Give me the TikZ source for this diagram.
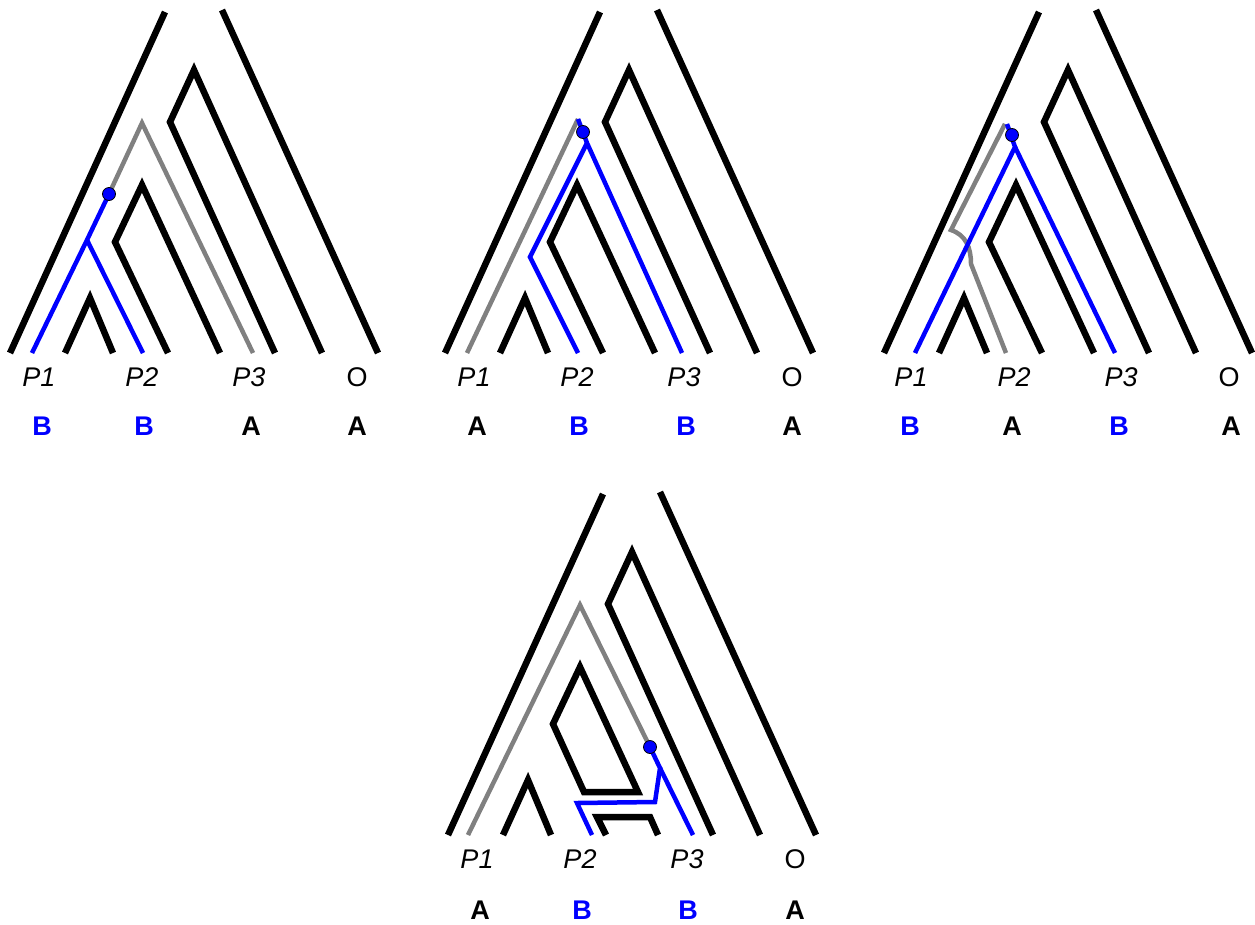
\documentclass[tikz,border=0pt]{standalone}
\usepackage{fontspec}
\setmainfont{Liberation Sans}

% shared species tree (without the P2 tube)
\newcommand{\speciestree}{%
  \draw[sp] (10,353) -- (165,12);
  \draw[sp] (222,10) -- (378,353);
  \draw[sp] (275,353) -- (170,122) -- (194,70) -- (322,353);
  \draw[sp] (65,353) -- (90,298) -- (113,353);
}

\begin{document}
\begin{tikzpicture}[
    x=1pt, y=-1pt,
    sp/.style={line width=6.5pt},
    gene/.style={line width=4.5pt},
    lost/.style={gene, gray},
    kept/.style={gene, blue},
    coal/.style={circle, fill=blue, draw=black, line width=0.8pt,
                 minimum size=13pt, inner sep=0pt},
    tip/.style={font=\fontsize{27}{31}\selectfont, inner sep=0pt},
    state/.style={font=\fontsize{27}{31}\selectfont\bfseries, inner sep=0pt}
]
\useasboundingbox (0,0) rectangle (1255,924);

% species trees
\foreach \dx/\dy in {0/0, 435/0, 874/0, 438/482} {
  \begin{scope}[shift={(\dx,\dy)}]
    \speciestree
  \end{scope}
}
\foreach \dx in {0, 435, 874}
  \draw[sp, shift={(\dx,0)}] (168,353) -- (115,242) -- (142,185) -- (220,353);

% tip labels
\foreach \dx/\dy/\k in {0/0/a, 435/0/b, 872/0/c, 438/482/d} {
  \node[tip] (p1\k) at (\dx+39,\dy+377) {\itshape P1};
  \node[tip] (p2\k) at (\dx+142,\dy+377) {\itshape P2};
  \node[tip] (p3\k) at (\dx+249,\dy+377) {\itshape P3};
  \node[tip] (o\k)  at (\dx+357,\dy+377) {O};
}

% panel 1
\draw[lost] (253,353) -- (142,123) -- (109,194);
\draw[kept] (109,194) -- (87,240) -- (32,353);
\draw[kept] (87,240) -- (143,353);
\node[coal] (c1) at (109,194) {};
\node[state, blue] (s1a) at (42,426) {B};
\node[state, blue] (s2a) at (144,426) {B};
\node[state] (s3a) at (251,426) {A};
\node[state] (s4a) at (357,426) {A};

% panel 2
\begin{scope}[shift={(435,0)}]
  \draw[lost] (32,353) -- (143,119);
  \draw[kept] (143,119) -- (152,143) -- (247,353);
  \draw[kept] (152,143) -- (95,257) -- (143,353);
  \node[coal] (c2) at (148,132) {};
  \node[state] (s1b) at (42,426) {A};
  \node[state, blue] (s2b) at (144,426) {B};
  \node[state, blue] (s3b) at (251,426) {B};
  \node[state] (s4b) at (357,426) {A};
\end{scope}

% panel 3
\begin{scope}[shift={(874,0)}]
  \draw[lost] (131,124) -- (77,230) .. controls (92,235) and (97,248) .. (97,264) -- (132,353);
  \draw[kept] (133,124) -- (141,147) -- (41,353);
  \draw[kept] (141,147) -- (241,353);
  \node[coal] (c3) at (138,135) {};
  \node[state, blue] (s1c) at (36,426) {B};
  \node[state] (s2c) at (138,426) {A};
  \node[state, blue] (s3c) at (245,426) {B};
  \node[state] (s4c) at (357,426) {A};
\end{scope}

% panel 4
\begin{scope}[shift={(438,482)}]
  \draw[sp] (142,185) -- (115,242) -- (146,310) -- (200,310) -- cycle;
  \draw[sp] (168,353) -- (159,335) -- (212,335) -- (220,353);
  \draw[lost] (30,353) -- (142,123) -- (212,265);
  \draw[kept] (212,265) -- (222,286) -- (217,320) -- (139,321) -- (154,353);
  \draw[kept] (222,286) -- (255,353);
  \node[coal] (c4) at (212,265) {};
  \node[state] (s1d) at (42,428) {A};
  \node[state, blue] (s2d) at (144,428) {B};
  \node[state, blue] (s3d) at (250,428) {B};
  \node[state] (s4d) at (357,428) {A};
\end{scope}
\end{tikzpicture}
\end{document}
